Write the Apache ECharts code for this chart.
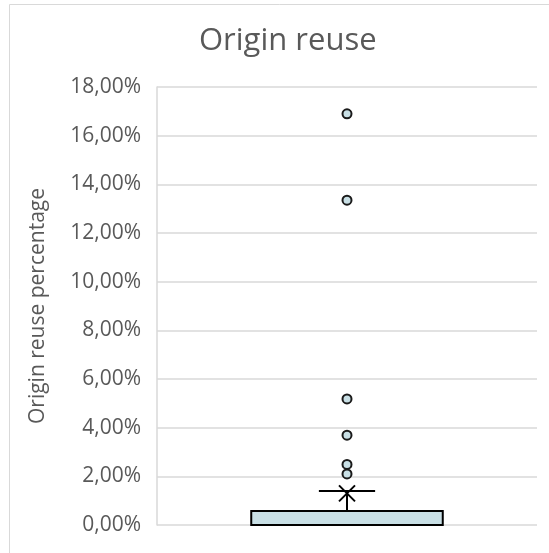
<!DOCTYPE html>
<html>
<head>
<meta charset="utf-8">
<script src="https://cdn.jsdelivr.net/npm/echarts@6/dist/echarts.min.js"></script>
<style>
  html, body { margin: 0; padding: 0; background: #fff; }
  #chart { width: 549px; height: 553px; }
</style>
</head>
<body>
<div id="chart"></div>
<script>
// Box-plot summary for origin reuse (values in %)
const categories = ['Origin reuse'];
const boxStats = [
  // [lowerWhisker, Q1, median, Q3, upperWhisker, mean]
  [0, 0, 0, 0.58, 1.40, 1.30]
];
const outliers = [16.9, 13.35, 5.18, 3.69, 2.49, 2.10];
const yTicks = { min: 0, max: 18, interval: 2 };

const FONT = '"Open Sans", sans-serif';
const TEXT = '#595959';
const GRID = '#d9d9d9';
const FILL = '#c8dfe5';

const chart = echarts.init(document.getElementById('chart'), null, { renderer: 'canvas' });

function renderBox(params, api) {
  const x = api.value(0);
  const lo = api.value(1), q1 = api.value(2), med = api.value(3),
        q3 = api.value(4), hi = api.value(5), mean = api.value(6);
  const band = api.size([1, 0])[0];
  const cx = api.coord([x, 0])[0];
  const y = v => api.coord([x, v])[1];
  const half = band * 0.252;
  const capHalf = band * 0.074;
  const m = 8;
  const line = { stroke: '#000', lineWidth: 2, fill: null };
  return {
    type: 'group',
    children: [
      { type: 'line', shape: { x1: cx, y1: y(q3), x2: cx, y2: y(hi) }, style: line },
      { type: 'line', shape: { x1: cx - capHalf, y1: y(hi), x2: cx + capHalf, y2: y(hi) }, style: line },
      { type: 'line', shape: { x1: cx, y1: y(q1), x2: cx, y2: y(lo) }, style: line },
      { type: 'rect', shape: { x: cx - half, y: y(q3), width: half * 2, height: y(q1) - y(q3) },
        style: { fill: FILL, stroke: '#000', lineWidth: 2 } },
      { type: 'line', shape: { x1: cx - half, y1: y(med), x2: cx + half, y2: y(med) }, style: line },
      { type: 'line', shape: { x1: cx - m, y1: y(mean) - m, x2: cx + m, y2: y(mean) + m }, style: line },
      { type: 'line', shape: { x1: cx + m, y1: y(mean) - m, x2: cx - m, y2: y(mean) + m }, style: line }
    ]
  };
}

chart.setOption({
  animation: false,
  backgroundColor: '#fff',
  graphic: [{
    type: 'rect', left: 7, top: 2, silent: true,
    shape: { width: 600, height: 600 },
    style: { fill: 'none', stroke: GRID, lineWidth: 1 }
  }],
  title: {
    text: 'Origin reuse',
    left: 194,
    top: 21,
    textStyle: { fontFamily: FONT, fontSize: 31, fontWeight: 'normal', color: TEXT }
  },
  grid: { left: 157, right: 12, top: 87, bottom: 28 },
  xAxis: {
    type: 'category',
    data: categories,
    axisLine: { show: false },
    axisTick: { show: false },
    axisLabel: { show: false }
  },
  yAxis: {
    type: 'value',
    min: yTicks.min, max: yTicks.max, interval: yTicks.interval,
    name: 'Origin reuse percentage',
    nameLocation: 'middle',
    nameGap: 108,
    nameTextStyle: { fontFamily: FONT, fontSize: 21, color: TEXT },
    axisLine: { show: true, lineStyle: { color: GRID, width: 1.5 } },
    axisTick: { show: false },
    splitLine: { lineStyle: { color: GRID, width: 1.5 } },
    axisLabel: {
      margin: 16,
      fontFamily: FONT, fontSize: 21, color: TEXT,
      formatter: v => v.toFixed(2).replace('.', ',') + '%'
    }
  },
  series: [
    {
      type: 'custom',
      renderItem: renderBox,
      encode: { x: 0, y: [1, 2, 3, 4, 5, 6] },
      data: boxStats.map((s, i) => [i].concat(s)),
      z: 3
    },
    {
      type: 'scatter',
      symbol: 'circle',
      symbolSize: 9,
      itemStyle: { color: FILL, borderColor: '#1a1a1a', borderWidth: 2, opacity: 1 },
      data: outliers.map(v => [0, v]),
      z: 4
    }
  ]
});
</script>
</body>
</html>
